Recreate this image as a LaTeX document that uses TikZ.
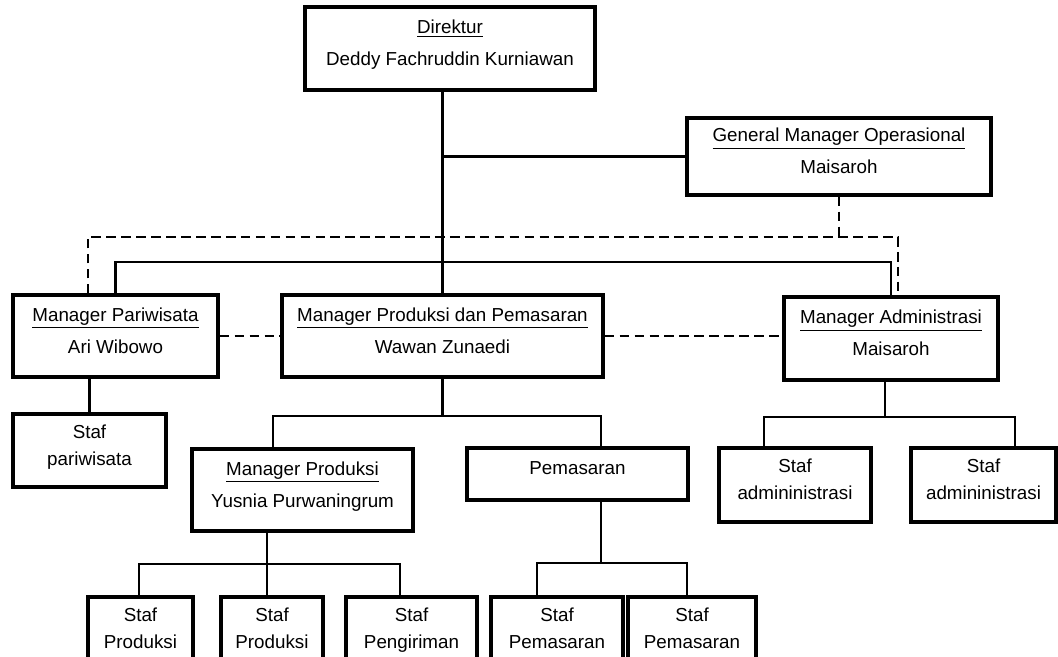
\documentclass[tikz,border=0pt]{standalone}
\usepackage{fontspec}
\setmainfont{Liberation Sans}
\usepackage{tikz}
\usetikzlibrary{calc}
\tikzset{
  box/.style      = {draw, line width=2pt, align=center, inner sep=0pt,
                     font=\fontsize{10.7pt}{18.2pt}\selectfont,
                     execute at end node={\rule[-6.5pt]{0pt}{0pt}}},
  stafbox/.style  = {box, font=\fontsize{10.7pt}{15.4pt}\selectfont},
  link/.style     = {line width=1.3pt},
  dashlink/.style = {line width=0.7pt, dash pattern=on 5.5pt off 3pt}
}

\begin{document}
\begin{tikzpicture}[x=0.02cm, y=-0.02cm]

  \useasboundingbox (0,0) rectangle (1058,656);
  \clip (0,0) rectangle (1058,656);

  %% ── Top level ─────────────────────────────────────────────────
  \node[box, minimum width=5.80cm, minimum height=1.66cm] (dir) at (450,48.5)
    {\underline{Direktur}\\Deddy Fachruddin Kurniawan};
  \node[box, minimum width=6.08cm, minimum height=1.54cm] (gmo) at (839,156.5)
    {\underline{General Manager Operasional}\\Maisaroh};

  %% ── Managers ──────────────────────────────────────────────────
  \node[box, minimum width=4.10cm, minimum height=1.64cm] (mpar) at (115.5,336)
    {\underline{Manager Pariwisata}\\Ari Wibowo};
  \node[box, minimum width=6.42cm, minimum height=1.64cm] (mpp) at (442.5,336)
    {\underline{Manager Produksi dan Pemasaran}\\Wawan Zunaedi};
  \node[box, minimum width=4.28cm, minimum height=1.66cm] (madm) at (891,338.5)
    {\underline{Manager Administrasi}\\Maisaroh};

  %% ── Second level ──────────────────────────────────────────────
  \node[stafbox, minimum width=3.06cm, minimum height=1.46cm] (spar) at (89.5,450.5)
    {Staf\\pariwisata};
  \node[box, minimum width=4.42cm, minimum height=1.64cm] (mprod) at (302.5,490)
    {\underline{Manager Produksi}\\Yusnia Purwaningrum};
  \node[box, minimum width=4.42cm, minimum height=1.04cm] (pem) at (577.5,474)
    {Pemasaran};
  \node[stafbox, minimum width=3.04cm, minimum height=1.48cm] (sadmA) at (795,485)
    {Staf\\admininistrasi};
  \node[stafbox, minimum width=2.90cm, minimum height=1.48cm] (sadmB) at (983.5,485)
    {Staf\\admininistrasi};

  %% ── Staff row ─────────────────────────────────────────────────
  \node[stafbox, minimum width=2.10cm, minimum height=1.48cm] (sprodA) at (140.5,634)
    {Staf\\Produksi};
  \node[stafbox, minimum width=2.04cm, minimum height=1.48cm] (sprodB) at (272,634)
    {Staf\\Produksi};
  \node[stafbox, minimum width=2.62cm, minimum height=1.48cm] (skirim) at (411.5,634)
    {Staf\\Pengiriman};
  \node[stafbox, minimum width=2.64cm, minimum height=1.48cm] (spemA) at (557,634)
    {Staf\\Pemasaran};
  \node[stafbox, minimum width=2.56cm, minimum height=1.48cm] (spemB) at (692,634)
    {Staf\\Pemasaran};

  %% ── Bus points ────────────────────────────────────────────────
  \coordinate (bus)   at (0,262);
  \coordinate (dl)    at (88,237);
  \coordinate (dr)    at (898,237);
  \coordinate (pbL)   at (273,416);
  \coordinate (pbR)   at (601,416);
  \coordinate (abL)   at (764,417);
  \coordinate (abR)   at (1015,417);
  \coordinate (abM)   at (885,417);
  \coordinate (rbL)   at (139,564);
  \coordinate (rbM)   at (267,564);
  \coordinate (rbR)   at (400,564);
  \coordinate (mbL)   at (537,563);
  \coordinate (mbR)   at (687,563);

  %% ── Solid lines ───────────────────────────────────────────────
  \draw[link] (mpp.north) -- (mpp.north |- dir.south);
  \draw[link] (gmo.west) -- (gmo.west -| mpp.north);
  \draw[link] (mpar.north) |- (bus -| madm.north) -- (madm.north);
  \draw[link] (spar.north) -- (spar.north |- mpar.south);
  % produksi dan pemasaran
  \draw[link] (mpp.south) -- (mpp.south |- pbL);
  \draw[link] (pbL |- mprod.north) -- (pbL) -- (pbR) -- (pbR |- pem.north);
  % administrasi
  \draw[link] (abM |- madm.south) -- (abM);
  \draw[link] (abL |- sadmA.north) -- (abL) -- (abR) -- (abR |- sadmB.north);
  % produksi
  \draw[link] (rbM |- mprod.south) -- (rbM);
  \draw[link] (rbL |- sprodA.north) -- (rbL) -- (rbR) -- (rbR |- skirim.north);
  \draw[link] (rbM) -- (rbM |- sprodB.north);
  % pemasaran
  \draw[link] (mbR -| pbR) -- (pbR |- pem.south);
  \draw[link] (mbL |- spemA.north) -- (mbL) -- (mbR) -- (mbR |- spemB.north);

  %% ── Dashed lines ──────────────────────────────────────────────
  \draw[dashlink] (gmo.south) -- (gmo.south |- dl);
  \draw[dashlink] (dl |- mpar.north) -- (dl) -- (dr) -- (dr |- madm.north);
  \draw[dashlink] (mpar.east) -- (mpp.west);
  \draw[dashlink] (mpp.east) -- (mpp.east -| madm.west);

\end{tikzpicture}
\end{document}
